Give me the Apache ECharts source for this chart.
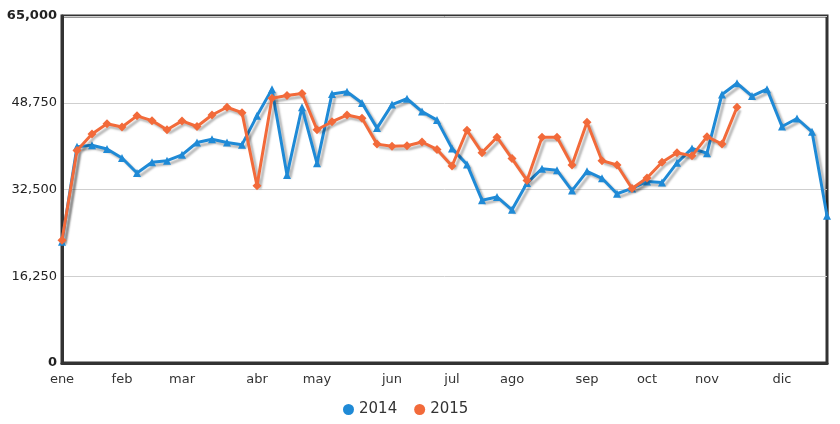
<!DOCTYPE html>
<html>
<head>
<meta charset="utf-8">
<script src="https://cdn.jsdelivr.net/npm/echarts@6/dist/echarts.min.js"></script>
<style>html,body{margin:0;padding:0;background:#fff}#c{width:840px;height:424px}</style>
</head>
<body>
<div id="c"></div>
<script>
var months = ['ene','feb','mar','abr','may','jun','jul','ago','sep','oct','nov','dic'];
var monthStartWeek = [0,4,8,13,17,22,26,30,35,39,43,48];
var yTicks = [0, 16250, 32500, 48750, 65000];
var s2014 = [22700,40500,40800,40100,38400,35600,37600,37900,39000,41300,41900,41300,40900,46300,51300,35200,47900,37400,50400,50800,48700,44000,48400,49500,47100,45500,40200,37200,30500,31100,28700,33700,36400,36100,32300,35900,34600,31700,32700,34000,33800,37500,40200,39300,50300,52400,50000,51300,44300,45800,43300,27600];
var s2015 = [23000,39800,42900,44800,44200,46300,45400,43700,45350,44300,46450,47900,46900,33200,49600,50100,50500,43700,45200,46450,45830,41000,40600,40700,41400,40000,36900,43600,39400,42300,38300,34200,42300,42300,37100,45100,37900,37100,32700,34650,37600,39400,38800,42400,41000,47900];

var weeks = s2014.map(function(_, i){ return i; });
var chart = echarts.init(document.getElementById('c'), null, {renderer:'canvas'});
var font = 'DejaVu Sans';
var shadow = {shadowColor:'rgba(0,0,0,0.28)', shadowBlur:2, shadowOffsetX:3, shadowOffsetY:3};
chart.setOption({
  animation:false,
  grid:{left:62, right:13, top:16, bottom:61, show:true, borderColor:'#333', borderWidth:3, containLabel:false},
  legend:{bottom:2, left:338, icon:'circle', itemWidth:11, itemHeight:11, itemGap:17,
    textStyle:{fontFamily:font, fontSize:15, color:'#333'}, data:['2014','2015']},
  xAxis:{type:'category', data:weeks, boundaryGap:false,
    axisLine:{show:true, lineStyle:{color:'#333', width:3}}, axisTick:{show:false},
    splitLine:{show:false},
    axisLabel:{interval:function(i){ return monthStartWeek.indexOf(i) >= 0; },
      formatter:function(v, i){ var k = monthStartWeek.indexOf(Number(v)); return k>=0 ? months[k] : ''; },
      fontFamily:font, fontSize:13, color:'#333', margin:10}},
  yAxis:{type:'value', min:yTicks[0], max:yTicks[yTicks.length-1], interval:yTicks[1]-yTicks[0],
    axisLine:{show:true, lineStyle:{color:'#333', width:3}}, axisTick:{show:false},
    splitLine:{lineStyle:{color:'#cfcfcf', width:1}},
    axisLabel:{fontFamily:font, fontSize:13, color:'#222', margin:5,
      formatter:function(v){
        var t = v.toLocaleString('en-US');
        return (v === yTicks[0] || v === yTicks[yTicks.length-1]) ? '{b|' + t + '}' : t;
      },
      rich:{b:{fontFamily:font, fontSize:13, fontWeight:'bold', color:'#222'}}}},
  series:[
    {name:'2014', type:'line', data:s2014, symbol:'triangle', symbolSize:8, z:3,
      itemStyle:{color:'#1f8ad6'}, lineStyle:Object.assign({width:3, color:'#1f8ad6'}, shadow)},
    {name:'2015', type:'line', data:s2015, symbol:'diamond', symbolSize:9, z:4,
      itemStyle:{color:'#f26a3a'}, lineStyle:Object.assign({width:3, color:'#f26a3a'}, shadow)}
  ]
});
</script>
</body>
</html>
